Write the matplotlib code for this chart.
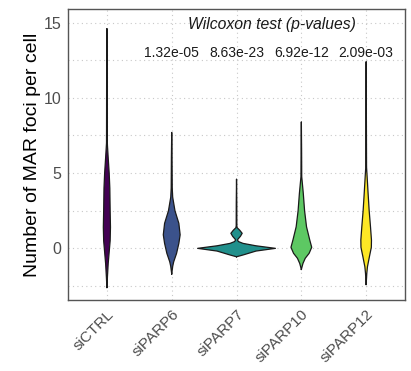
import numpy as np
import matplotlib
matplotlib.use('Agg')
import matplotlib.pyplot as plt

plt.rcParams['font.family'] = ['Liberation Sans', 'DejaVu Sans']

# 分组与颜色
groups = ['siCTRL', 'siPARP6', 'siPARP7', 'siPARP10', 'siPARP12']
colors = ['#440154', '#3B528B', '#21908C', '#5DC863', '#FDE725']
p_values = ['1.32e-05', '8.63e-23', '6.92e-12', '2.09e-03']

# 小提琴轮廓：y 值与半宽（类别单位）
ctrl_y = [-2.6, -1.9, -1.0, 0.0, 0.5, 1.4, 2.5, 4.0, 5.0, 6.0, 7.0, 9.0, 12.0, 14.6]
ctrl_w = [0.0, 0.008, 0.02, 0.04, 0.05, 0.055, 0.05, 0.045, 0.035, 0.02, 0.006, 0.005, 0.004, 0.0]

parp6_y = [-1.7, -1.2, -0.9, -0.33, 0.33, 0.9, 1.66, 2.5, 3.4, 4.0, 6.0, 7.7]
parp6_w = [0.0, 0.015, 0.03, 0.075, 0.11, 0.13, 0.11, 0.05, 0.015, 0.008, 0.005, 0.0]

parp7_y = [-0.56, -0.44, -0.18, 0.0, 0.17, 0.33, 0.45, 0.55, 0.6, 0.8, 1.0, 1.2, 1.37, 1.5, 3.0, 4.6]
parp7_w = [0.0, 0.1, 0.3, 0.6, 0.3, 0.1, 0.03, 0.015, 0.02, 0.06, 0.087, 0.05, 0.01, 0.005, 0.004, 0.0]

parp10_y = [-1.4, -1.0, -0.66, -0.33, 0.07, 0.55, 1.43, 2.5, 3.65, 4.76, 6.5, 8.4]
parp10_w = [0.0, 0.025, 0.06, 0.12, 0.16, 0.13, 0.08, 0.05, 0.03, 0.006, 0.004, 0.0]

parp12_y = [-2.4, -1.66, -1.22, -0.56, 0.07, 0.55, 1.43, 2.54, 3.65, 4.76, 5.4, 8.0, 12.4]
parp12_w = [0.0, 0.01, 0.02, 0.05, 0.08, 0.082, 0.067, 0.046, 0.03, 0.015, 0.006, 0.004, 0.0]

profiles = [(ctrl_y, ctrl_w), (parp6_y, parp6_w), (parp7_y, parp7_w),
            (parp10_y, parp10_w), (parp12_y, parp12_w)]

fig = plt.figure(figsize=(4.11, 3.71), dpi=100)
ax = fig.add_axes([0.1655, 0.1914, 0.82, 0.7836])

for i, ((ys, ws), c) in enumerate(zip(profiles, colors), start=1):
    ys = np.array(ys)
    ws = np.array(ws)
    ax.fill_betweenx(ys, i - ws, i + ws, facecolor=c, edgecolor='none', zorder=3)
    xs = np.concatenate([i - ws, (i + ws)[::-1]])
    yy = np.concatenate([ys, ys[::-1]])
    ax.plot(xs, yy, color='#1a1a1a', linewidth=0.9, zorder=4)

ax.set_xlim(0.4, 5.6)
ax.set_ylim(-3.43, 15.88)
ax.set_xticks(range(1, 6))
ax.set_xticklabels(groups, rotation=45, ha='right', va='top', rotation_mode='anchor',
                   fontsize=11, color='#4d4d4d')
ax.set_yticks([0, 5, 10, 15])
ax.set_yticks([-2.5, 2.5, 7.5, 12.5], minor=True)
ax.tick_params(axis='both', which='both', length=0, labelsize=11.5,
               labelcolor='#4d4d4d', pad=5)
ax.tick_params(axis='x', labelsize=11, pad=5)
ax.grid(True, which='both', linestyle=(0, (1, 3)), color='#c8c8c8', linewidth=0.8, zorder=0)
ax.set_axisbelow(True)
for s in ax.spines.values():
    s.set_color('#555555')
    s.set_linewidth(1.0)

ax.set_ylabel('Number of MAR foci per cell', fontsize=14, labelpad=2)

ax.text(3.55, 14.85, 'Wilcoxon test (p-values)', fontsize=11.3, style='italic',
        ha='center', va='center', color='#1a1a1a', zorder=5)
for i, p in enumerate(p_values, start=2):
    ax.text(i, 13.0, p, fontsize=10, ha='center', va='center', color='#1a1a1a', zorder=5)

fig.savefig('out.png', dpi=100)
